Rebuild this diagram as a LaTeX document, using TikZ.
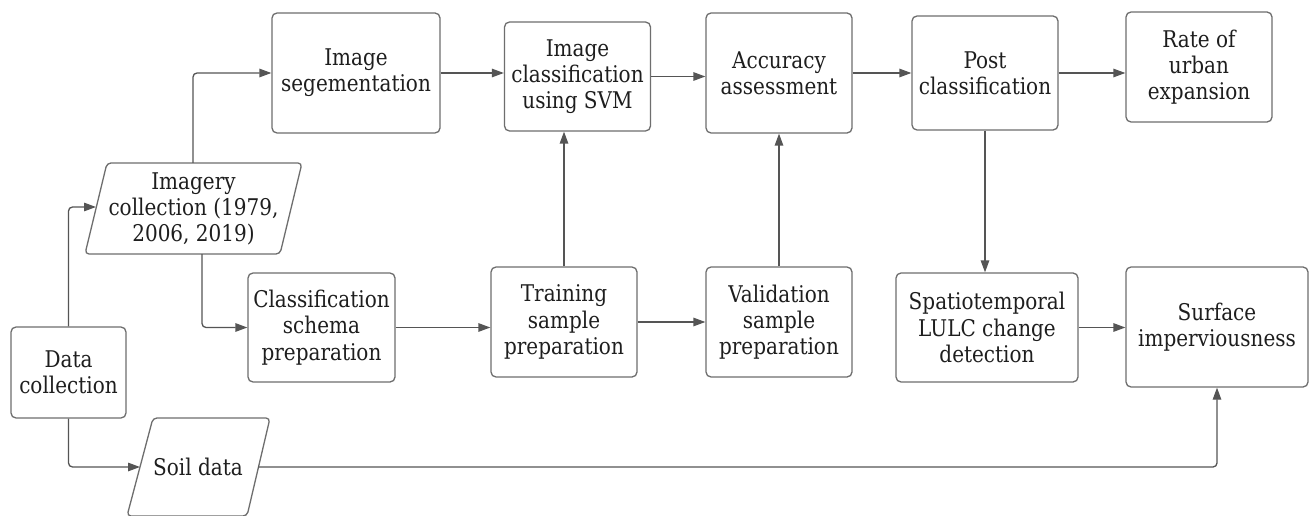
\documentclass[tikz,border=0pt]{standalone}
\usepackage{fontspec}
\setmainfont{DejaVu Serif}[FakeStretch=0.87]
\usetikzlibrary{arrows.meta}
\definecolor{edgegray}{HTML}{6E6E6E}
\definecolor{linegray}{HTML}{555555}
\definecolor{txt}{HTML}{1E1E1E}
\begin{document}
\begin{tikzpicture}[x=1pt,y=-1pt,
  stepbox/.style={draw=edgegray, line width=1.3pt, rounded corners=5pt, inner sep=0pt,
    align=center, text=txt, font=\fontsize{23}{26.3}\selectfont},
  para/.style={draw=edgegray, line width=1.3pt, rounded corners=4pt},
  lbl/.style={inner sep=0pt, align=center, text=txt, font=\fontsize{23}{26.3}\selectfont},
  arr/.style={draw=linegray, line width=1.3pt, rounded corners=4pt,
    -{Triangle[length=12pt,width=8.5pt]}}]
\useasboundingbox (0,0) rectangle (1312,516);
\fill[white] (0,0) rectangle (1312,516);

% rectangular steps
\node[stepbox, minimum width=115pt, minimum height=91pt] (dc) at (68.5,372.5) {Data\\collection};
\node[stepbox, minimum width=168pt, minimum height=120pt] (seg) at (356,73) {Image\\segementation};
\node[stepbox, minimum width=146pt, minimum height=109pt] (cls) at (577.5,76.5) {Image\\classification\\using SVM};
\node[stepbox, minimum width=146pt, minimum height=120pt] (acc) at (779,73) {Accuracy\\assessment};
\node[stepbox, minimum width=146pt, minimum height=114pt] (post) at (985,73) {Post\\classification};
\node[stepbox, minimum width=146pt, minimum height=110pt] (rate) at (1199,67) {Rate of\\urban\\expansion};
\node[stepbox, minimum width=147pt, minimum height=109pt] (schema) at (321.5,327.5) {Classification\\schema\\preparation};
\node[stepbox, minimum width=146pt, minimum height=110pt] (train) at (564,322) {Training\\sample\\preparation};
\node[stepbox, minimum width=146pt, minimum height=110pt] (valid) at (779,322) {Validation\\sample\\preparation};
\node[stepbox, minimum width=182pt, minimum height=109pt] (spatio) at (987,327.5) {Spatiotemporal\\LULC change\\detection};
\node[stepbox, minimum width=182pt, minimum height=120pt] (surf) at (1217,327) {Surface\\imperviousness};

% parallelograms (data inputs)
\draw[para] (107,163) -- (302,163) -- (280,254) -- (85,254) -- cycle;
\node[lbl] (img) at (193.5,209) {Imagery\\collection (1979,\\2006, 2019)};
\draw[para] (153,418) -- (270,418) -- (247,516) -- (127,516) -- cycle;
\node[lbl] (soil) at (198,467) {Soil data};

\coordinate (imgL) at (96,207);
\coordinate (imgT) at (193,163);
\coordinate (imgB) at (202,254);
\coordinate (soilL) at (140,467);
\coordinate (soilR) at (258,467);

% connectors
\draw[arr] (dc.north) |- (imgL);
\draw[arr] (dc.south) |- (soilL);
\draw[arr] (imgT) |- (seg.west);
\draw[arr] (imgB) |- (schema.west);
\draw[arr] (seg.east) -- (seg.east -| cls.west);
\draw[arr] (cls.east) -- (cls.east -| acc.west);
\draw[arr] (acc.east) -- (acc.east -| post.west);
\draw[arr] (post.east) -- (post.east -| rate.west);
\draw[arr] (schema.east) -- (schema.east -| train.west);
\draw[arr] (train.east) -- (train.east -| valid.west);
\draw[arr] (train.north) -- (train.north |- cls.south);
\draw[arr] (valid.north) -- (valid.north |- acc.south);
\draw[arr] (post.south) -- (post.south |- spatio.north);
\draw[arr] (spatio.east) -- (spatio.east -| surf.west);
\draw[arr] (soilR) -| (surf.south);
\end{tikzpicture}
\end{document}
